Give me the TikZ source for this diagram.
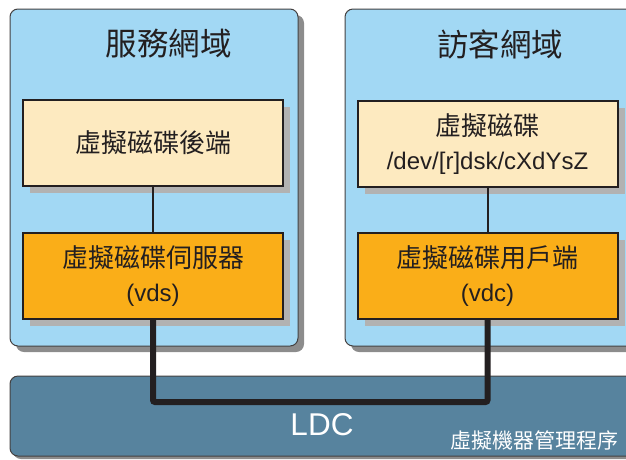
\documentclass[tikz,border=0pt]{standalone}
\usepackage{fontspec}
\setmainfont{Liberation Sans}
\newfontfamily\cjk{Noto Sans CJK TC}
\usetikzlibrary{shadows}
\definecolor{domblue}{RGB}{162,216,244}
\definecolor{cream}{RGB}{253,234,192}
\definecolor{orng}{RGB}{250,174,24}
\definecolor{ldcblue}{RGB}{87,131,158}
\definecolor{ink}{RGB}{35,31,32}
\newcommand{\cj}[1]{{\cjk\fontsize{26}{34}\selectfont #1}}
\tikzset{
  dombox/.style={draw=ink!85, line width=1pt, fill=domblue, rounded corners=8pt,
    drop shadow={shadow xshift=6pt, shadow yshift=-6pt, fill=black!45, opacity=1}},
  innerbox/.style={draw=ink, line width=2pt, align=center, text=ink,
    minimum width=260pt, minimum height=86pt, inner sep=0pt,
    drop shadow={shadow xshift=7pt, shadow yshift=-7pt, fill=black!30, opacity=1}},
  titletext/.style={text=ink, font=\cjk\fontsize{31.5}{36}\selectfont},
  boxfont/.style={font=\fontsize{24}{34}\selectfont},
  thin link/.style={draw=ink, line width=2pt},
  thick link/.style={draw=ink, line width=6pt, rounded corners=2pt},
}
\begin{document}
\begin{tikzpicture}[x=1pt,y=-1pt]
\useasboundingbox (0,0) rectangle (626,459);
\clip (0,0) rectangle (626,459);
% domains
\node[dombox, minimum width=288pt, minimum height=337pt] (dom1) at (154,177.5) {};
\node[dombox, minimum width=300pt, minimum height=337pt] (dom2) at (495,177.5) {};
\node[titletext] (t1) at (168.5,44) {服務網域};
\node[titletext] (t2) at (500,44) {訪客網域};
% LDC bar
\node[draw=ink!85, line width=1pt, fill=ldcblue, rounded corners=8pt,
  minimum width=640pt, minimum height=80pt, inner sep=0pt,
  drop shadow={shadow xshift=3pt, shadow yshift=-3pt, fill=black!45, opacity=1}]
  (ldc) at (330,416) {};
\node[text=white, font=\fontsize{31.5}{36}\selectfont] (ldct) at (322,425) {LDC};
\node[text=white, font=\cjk\fontsize{21}{24}\selectfont] (hv) at (534.5,440) {虛擬機器管理程序};
% inner boxes
\node[innerbox, fill=cream, boxfont] (back) at (153,143) {\cj{虛擬磁碟後端}};
\node[innerbox, fill=orng, boxfont] (vds) at (153,276) {\cj{虛擬磁碟伺服器}\\(vds)};
\node[innerbox, fill=cream, boxfont] (disk) at (487.5,144) {\cj{虛擬磁碟}\\/dev/[r]dsk/cXdYsZ};
\node[innerbox, fill=orng, boxfont] (vdc) at (487.5,276) {\cj{虛擬磁碟用戶端}\\(vdc)};
% links
\draw[thin link] (back) -- (vds);
\draw[thin link] (disk) -- (vdc);
\coordinate (mid) at (320,402);
\draw[thick link] (vds.south) |- (mid) -| (vdc.south);
\end{tikzpicture}
\end{document}
